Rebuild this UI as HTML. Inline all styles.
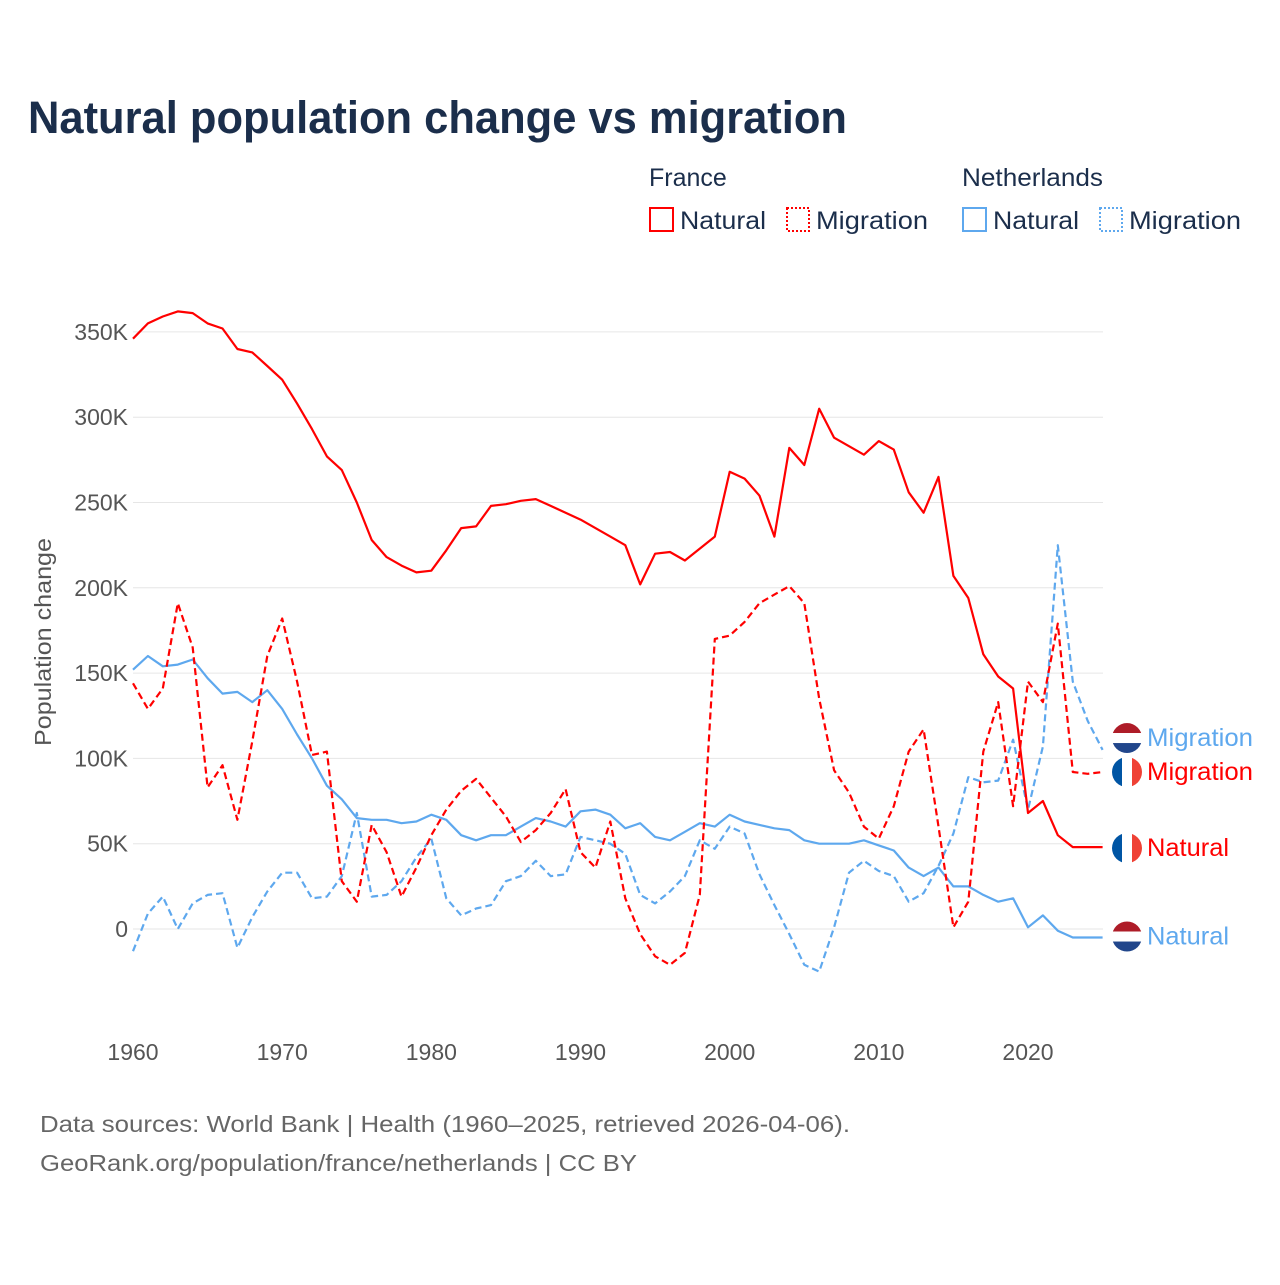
<!DOCTYPE html>
<html><head><meta charset="utf-8"><style>
html,body{margin:0;padding:0;background:#fff;}
body{width:1280px;height:1280px;overflow:hidden;font-family:"Liberation Sans",sans-serif;}
</style></head><body>
<svg id="chart" width="1280" height="1280" xmlns="http://www.w3.org/2000/svg">
<text x="28" y="133" font-size="45" font-weight="bold" fill="#1b2e4b" textLength="819" lengthAdjust="spacingAndGlyphs">Natural population change vs migration</text>
<g font-size="25" fill="#1b2e4b">
<text x="649" y="186">France</text>
<text x="962" y="186" textLength="141" lengthAdjust="spacingAndGlyphs">Netherlands</text>
<g><rect x="650" y="208" width="23" height="23" fill="none" stroke="#ff0000" stroke-width="2"/><text x="680" y="229" textLength="86" lengthAdjust="spacingAndGlyphs">Natural</text></g>
<g><rect x="787" y="208" width="22" height="23" fill="none" stroke="#ff0000" stroke-width="2" stroke-dasharray="2,2"/><text x="816" y="229" textLength="112" lengthAdjust="spacingAndGlyphs">Migration</text></g>
<g><rect x="963" y="208" width="23" height="23" fill="none" stroke="#5ea8ee" stroke-width="2"/><text x="993" y="229" textLength="86" lengthAdjust="spacingAndGlyphs">Natural</text></g>
<g><rect x="1100" y="208" width="22" height="23" fill="none" stroke="#5ea8ee" stroke-width="2" stroke-dasharray="2,2"/><text x="1129" y="229" textLength="112" lengthAdjust="spacingAndGlyphs">Migration</text></g>
</g>
<text transform="translate(51,642) rotate(-90)" text-anchor="middle" font-size="23" fill="#555" textLength="208" lengthAdjust="spacingAndGlyphs">Population change</text>
<g id="grid"></g><g id="series"></g><g id="ends"></g>
<text x="40" y="1132" font-size="23" fill="#666" textLength="810" lengthAdjust="spacingAndGlyphs">Data sources: World Bank | Health (1960–2025, retrieved 2026-04-06).</text>
<text x="40" y="1171" font-size="23" fill="#666" textLength="597" lengthAdjust="spacingAndGlyphs">GeoRank.org/population/france/netherlands | CC BY</text>
</svg>
<script>
const years=[];for(let y=1960;y<=2025;y++)years.push(y);
const yTicks=[0,50,100,150,200,250,300,350];
const xTicks=[1960,1970,1980,1990,2000,2010,2020];
const frNatural=[346,355,359,362,361,355,352,340,338,330,322,308,293,277,269,250,228,218,213,209,210,222,235,236,248,249,251,252,248,244,240,235,230,225,202,220,221,216,223,230,268,264,254,230,282,272,305,288,283,278,286,281,256,244,265,207,194,161,148,141,68,75,55,48,48,48];
const frMigration=[144,129,141,191,165,83,96,64,110,160,182,145,102,104,28,16,61,45,19,36,55,70,81,88,77,66,51,58,68,82,45,36,63,18,-3,-16,-21,-14,20,170,172,180,191,196,201,191,135,93,80,60,53,72,104,117,60,1,16,104,133,72,145,133,179,92,91,92];
const nlNatural=[152,160,154,155,158,147,138,139,133,140,129,114,100,84,76,65,64,64,62,63,67,64,55,52,55,55,60,65,63,60,69,70,67,59,62,54,52,57,62,60,67,63,61,59,58,52,50,50,50,52,49,46,36,31,36,25,25,20,16,18,1,8,-1,-5,-5,-5];
const nlMigration=[-13,9,19,0,15,20,21,-11,7,22,33,33,18,19,31,68,19,20,28,42,53,18,8,12,14,28,31,40,31,32,54,52,50,44,20,15,22,31,52,47,60,56,32,14,-3,-21,-25,1,33,40,34,31,16,21,37,56,89,86,87,111,70,107,225,145,122,105];
const X=y=>133+(y-1960)*(895/60);
const Y=v=>929-v*(85.3/50);
const NS="http://www.w3.org/2000/svg";
function mk(t,a,p){const e=document.createElementNS(NS,t);for(const k in a)e.setAttribute(k,a[k]);p.appendChild(e);return e;}
const grid=document.getElementById('grid');
yTicks.forEach(v=>{
 const l=mk('line',{x1:133,x2:1103,y1:Y(v),y2:Y(v),stroke:'#e6e6e6','stroke-width':1},grid);
 
 
 const t=mk('text',{x:128,y:Y(v)+8,'text-anchor':'end','font-size':23,fill:'#555'},grid);
 t.textContent=v===0?'0':v+'K';
 
 
});
xTicks.forEach(y=>{
 const t=mk('text',{x:X(y),y:1060,'text-anchor':'middle','font-size':23,fill:'#555'},grid);
 t.textContent=y;
 
 
});
const ser=document.getElementById('series');
function line(vals,color,dash,name){
 const d=vals.map((v,i)=>(i?'L':'M')+X(years[i]).toFixed(1)+','+Y(v).toFixed(1)).join('');
 const p=mk('path',{d:d,fill:'none',stroke:color,'stroke-width':2.2,'stroke-linejoin':'round'},ser);
 if(dash)p.setAttribute('stroke-dasharray','7,4');
 
 
}
line(nlMigration,'#5ea8ee',true,'line-netherlands-migration');
line(nlNatural,'#5ea8ee',false,'line-netherlands-natural');
line(frMigration,'#ff0000',true,'line-france-migration');
line(frNatural,'#ff0000',false,'line-france-natural');
const ends=document.getElementById('ends');
function flag(cy,country,label,color,name,tw){
 const g=mk('g',{},ends);
 
 
 const id='c'+name;
 const cp=mk('clipPath',{id:id},g);mk('circle',{cx:1127,cy:cy,r:15},cp);
 const fg=mk('g',{'clip-path':'url(#'+id+')'},g);
 if(country==='fr'){
  mk('rect',{x:1112,y:cy-15,width:10,height:30,fill:'#0055a4'},fg);
  mk('rect',{x:1122,y:cy-15,width:10,height:30,fill:'#fff'},fg);
  mk('rect',{x:1132,y:cy-15,width:10,height:30,fill:'#ef4135'},fg);
 }else{
  mk('rect',{x:1112,y:cy-15,width:30,height:10,fill:'#ae1c28'},fg);
  mk('rect',{x:1112,y:cy-5,width:30,height:10,fill:'#fff'},fg);
  mk('rect',{x:1112,y:cy+5,width:30,height:10,fill:'#21468b'},fg);
 }
 const t=mk('text',{x:1147,y:cy+8,'font-size':25,fill:color,textLength:tw,lengthAdjust:'spacingAndGlyphs'},g);
 t.textContent=label;
}
// label positions are de-overlapped from the series' last values
const lblNLM=Math.min(Y(nlMigration[65]),Y(frMigration[65])-34);
flag(lblNLM,'nl','Migration','#5ea8ee','end-label-netherlands-migration',106);
flag(lblNLM+34,'fr','Migration','#ff0000','end-label-france-migration',106);
flag(Y(frNatural[65])+1,'fr','Natural','#ff0000','end-label-france-natural',82);
flag(Y(nlNatural[65])-1,'nl','Natural','#5ea8ee','end-label-netherlands-natural',82);
</script>
</body></html>
